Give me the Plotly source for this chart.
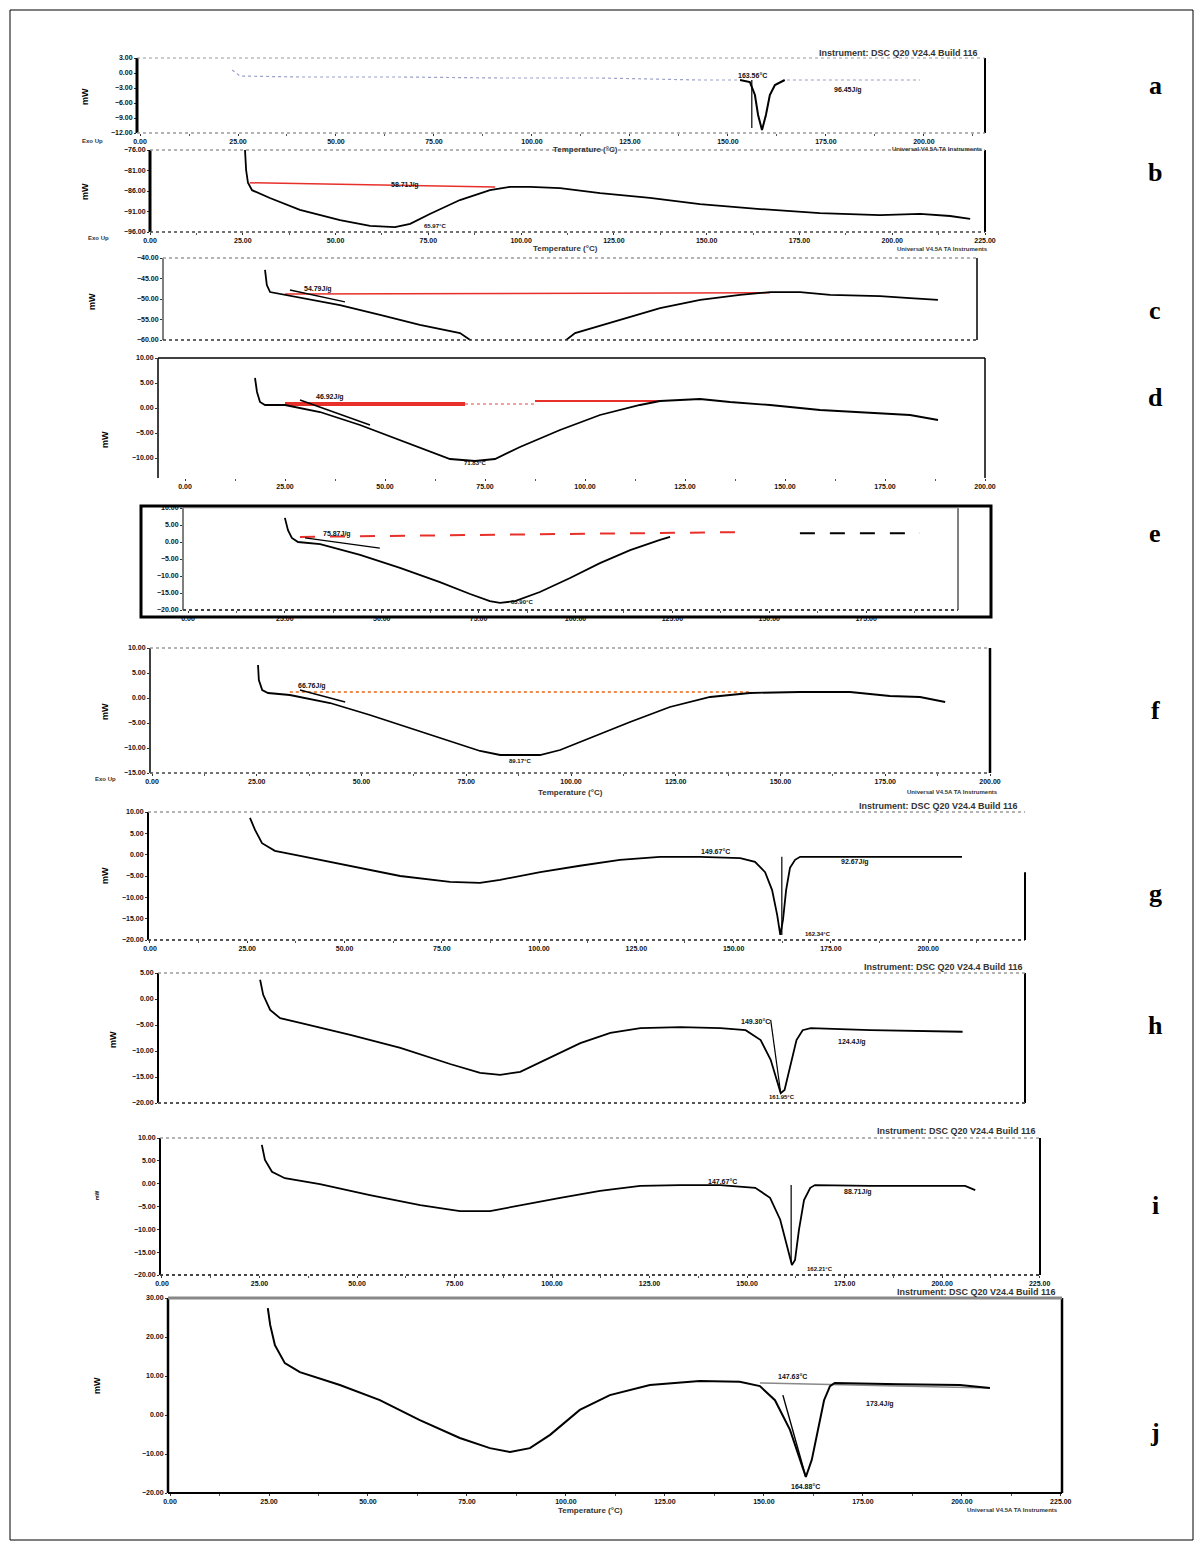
import plotly.graph_objects as go

# ---------------- data (temperature °C, heat flow mW) ----------------
a_T = [23.5, 25.5, 40.8, 66.3, 91.8, 117.3, 130.1, 142.9, 153.1, 155.6, 156.9, 157.7, 158.7, 159.7, 160.7, 162.0, 164.5, 181.1, 199.0]
a_Y = [0.6, -0.6, -0.8, -0.8, -1.0, -1.0, -1.2, -1.4, -1.4, -1.8, -4.4, -8.4, -11.4, -8.4, -4.4, -2.4, -1.4, -1.4, -1.4]
a_tan_T = [156.1, 156.1]
a_tan_Y = [-1.4, -11.0]

b_T = [25.6, 25.9, 26.4, 27.5, 32.3, 40.4, 51.2, 59.3, 66.0, 70.1, 75.4, 83.5, 91.6, 97.0, 102.4, 110.5, 121.3, 134.7, 148.2, 164.4, 180.5, 196.7, 207.5, 215.6, 221.0]
b_Y = [-76.0, -80.9, -84.0, -85.8, -87.7, -90.6, -93.1, -94.5, -94.8, -94.0, -91.6, -88.2, -85.8, -85.0, -85.0, -85.3, -86.5, -87.7, -89.2, -90.4, -91.4, -91.9, -91.6, -92.1, -92.8]
b_base_T = [26.9, 93.0]
b_base_Y = [-84.0, -85.0]

c_T = [28.2, 28.7, 29.6, 33.7, 37.9, 48.9, 60.0, 71.0, 82.1, 93.2, 98.7, 104.2, 113.9, 126.3, 137.4, 148.5, 159.5, 167.8, 176.1, 184.4, 198.2, 206.5, 214.2]
c_Y = [-42.9, -46.6, -48.3, -49.0, -49.8, -51.5, -53.9, -56.3, -58.3, -65.0, -66.0, -65.0, -58.3, -55.1, -52.2, -50.2, -49.0, -48.3, -48.3, -49.0, -49.3, -49.8, -50.2]
c_base_T = [33.7, 167.8]
c_base_Y = [-48.8, -48.5]
c_tan_T = [35.1, 50.3]
c_tan_Y = [-47.8, -50.7]

d_T = [17.5, 18.0, 18.75, 20.0, 25.0, 33.75, 43.75, 53.75, 61.25, 66.25, 72.5, 77.5, 83.75, 93.75, 103.75, 113.75, 118.75, 128.75, 136.25, 146.25, 158.75, 171.25, 181.25, 188.25]
d_Y = [6.0, 3.2, 1.2, 0.6, 0.6, -0.8, -3.4, -6.4, -8.8, -10.2, -10.6, -10.2, -7.8, -4.4, -1.4, 0.6, 1.4, 1.8, 1.2, 0.6, -0.4, -1.0, -1.4, -2.4]
d_base1_T = [25.0, 70.0]
d_base1_Y = [0.8, 0.8]
d_base2_T = [70.0, 87.5]
d_base2_Y = [0.8, 0.8]
d_base3_T = [87.5, 118.75]
d_base3_Y = [1.4, 1.4]
d_tan_T = [28.75, 46.25]
d_tan_Y = [1.6, -3.4]

e_T = [25.0, 25.8, 26.8, 28.4, 34.1, 44.4, 54.7, 65.0, 72.8, 77.9, 80.5, 84.4, 90.8, 98.6, 106.3, 114.1, 121.8, 124.4]
e_Y = [7.1, 3.5, 1.2, 0.0, -0.6, -3.8, -7.6, -11.8, -15.3, -17.4, -17.9, -17.4, -14.7, -10.6, -6.2, -2.4, 0.6, 1.5]
e_base1_T = [28.9, 141.2]
e_base1_Y = [1.5, 2.9]
e_base2_T = [157.9, 188.9]
e_base2_Y = [2.6, 2.6]
e_tan_T = [30.2, 49.5]
e_tan_Y = [1.2, -1.8]

f_T = [25.3, 25.5, 26.3, 27.7, 32.9, 42.5, 52.0, 61.6, 71.1, 78.3, 83.1, 92.6, 97.4, 104.5, 114.1, 123.6, 133.2, 142.7, 154.7, 166.6, 176.1, 183.3, 189.3]
f_Y = [6.6, 3.6, 1.6, 1.0, 0.6, -1.0, -3.4, -6.0, -8.6, -10.6, -11.4, -11.4, -10.4, -8.0, -4.8, -1.8, 0.2, 1.0, 1.2, 1.2, 0.4, 0.2, -0.8]
f_base_T = [32.9, 142.7]
f_base_Y = [1.2, 1.2]
f_tan_T = [35.3, 46.1]
f_tan_Y = [1.6, -0.8]

g_T = [25.7, 27.0, 28.8, 32.1, 38.6, 51.4, 64.3, 77.1, 84.8, 90.0, 100.3, 110.5, 120.8, 131.1, 141.4, 151.7, 155.5, 158.1, 159.9, 161.2, 162.0, 162.7, 163.5, 164.5, 165.8, 167.1, 179.9, 192.8, 208.7]
g_Y = [8.6, 5.8, 2.7, 0.9, -0.3, -2.6, -5.0, -6.4, -6.6, -5.9, -4.1, -2.6, -1.2, -0.5, -0.5, -0.8, -1.7, -4.1, -8.3, -14.1, -18.8, -15.3, -8.3, -3.1, -1.2, -0.5, -0.5, -0.5, -0.5]
g_tan_T = [162.4, 162.4]
g_tan_Y = [-0.5, -18.8]

h_T = [26.5, 27.3, 29.1, 31.7, 36.9, 49.9, 62.9, 75.8, 83.6, 88.8, 94.0, 101.8, 109.6, 117.4, 125.2, 135.6, 146.0, 152.5, 156.4, 159.0, 160.8, 161.6, 162.6, 164.2, 165.7, 167.3, 169.4, 184.9, 200.5, 208.8]
h_Y = [3.7, 0.8, -2.1, -3.7, -4.6, -6.9, -9.4, -12.5, -14.2, -14.6, -14.0, -11.3, -8.5, -6.5, -5.6, -5.4, -5.6, -6.0, -7.9, -11.7, -16.5, -18.1, -17.5, -12.7, -7.9, -6.0, -5.6, -6.0, -6.2, -6.3]
h_tan_T = [159.0, 161.6]
h_tan_Y = [-4.0, -18.1]

i_T = [25.6, 26.4, 28.2, 31.5, 40.5, 53.3, 66.2, 76.4, 84.1, 91.8, 102.1, 112.3, 122.6, 132.8, 143.1, 152.1, 155.9, 158.5, 160.5, 161.5, 162.3, 163.3, 164.6, 166.2, 167.4, 181.5, 196.9, 205.9, 208.5]
i_Y = [8.5, 5.2, 2.6, 1.2, -0.1, -2.5, -4.7, -6.0, -6.0, -4.7, -3.1, -1.6, -0.5, -0.3, -0.3, -0.9, -3.1, -7.9, -14.5, -17.8, -16.7, -10.1, -3.6, -0.9, -0.3, -0.5, -0.5, -0.5, -1.4]
i_tan_T = [161.3, 161.3]
i_tan_Y = [-0.3, -17.2]

j_T = [24.7, 25.3, 26.5, 29.0, 32.8, 42.9, 53.0, 63.1, 73.2, 80.8, 85.9, 90.9, 96.0, 103.5, 111.1, 121.2, 133.8, 143.9, 149.0, 152.8, 156.6, 159.1, 160.6, 162.1, 163.6, 165.2, 166.7, 167.9, 184.3, 199.5, 207.1]
j_Y = [27.4, 23.1, 17.9, 13.3, 11.0, 7.7, 3.8, -1.3, -5.9, -8.5, -9.5, -8.5, -5.1, 1.3, 5.1, 7.7, 8.7, 8.5, 7.4, 3.8, -3.8, -11.5, -15.9, -11.5, -3.8, 3.8, 7.4, 8.2, 7.9, 7.7, 6.9]
j_tan_T = [154.8, 160.6]
j_tan_Y = [5.1, -15.9]
j_base_T = [149.0, 207.1]
j_base_Y = [8.2, 6.9]

letters = ["a", "b", "c", "d", "e", "f", "g", "h", "i", "j"]
instrument_text = "Instrument: DSC Q20 V24.4 Build 116"

# ---------------- layout helpers ----------------
W, H = 1203, 1549


def fx(x):
    return x / W


def fy(y):
    return 1 - y / H


# panel boxes (left, right, top, bottom px), x range, y range/ticks, show x labels
panels = [
    dict(box=(137, 985, 58, 133), xr=[-0.77, 215.6], yr=[-12, 3], yt=[-12, -9, -6, -3, 0, 3], xl=True),
    dict(box=(150, 985, 150, 232), xr=[0, 225], yr=[-96, -76], yt=[-96, -91, -86, -81, -76], xl=True),
    dict(box=(163, 977, 258, 340), xr=[0, 225], yr=[-60, -40], yt=[-60, -55, -50, -45, -40], xl=False),
    dict(box=(158, 985, 358, 478), xr=[-6.75, 200], yr=[-14, 10], yt=[-10, -5, 0, 5, 10], xl=True),
    dict(box=(183, 958, 508, 610), xr=[-1.29, 198.7], yr=[-20, 10], yt=[-20, -15, -10, -5, 0, 5, 10], xl=True),
    dict(box=(150, 990, 648, 773), xr=[-0.48, 200.0], yr=[-15, 10], yt=[-15, -10, -5, 0, 5, 10], xl=True),
    dict(box=(148, 1025, 812, 940), xr=[-0.51, 224.9], yr=[-20, 10], yt=[-20, -15, -10, -5, 0, 5, 10], xl=True),
    dict(box=(158, 1025, 973, 1103), xr=[0, 225], yr=[-20, 5], yt=[-20, -15, -10, -5, 0, 5], xl=False),
    dict(box=(160, 1040, 1138, 1275), xr=[-0.51, 225.1], yr=[-20, 10], yt=[-20, -15, -10, -5, 0, 5, 10], xl=True),
    dict(box=(168, 1062, 1298, 1493), xr=[-0.51, 225.3], yr=[-20, 30], yt=[-20, -10, 0, 10, 20, 30], xl=True),
]
letter_y = [85, 173, 310, 397, 533, 710, 893, 1025, 1205, 1432]
ylabel_pos = [(85, 97, 9), (85, 192, 9), (92, 302, 9), (105, 440, 9), None, (105, 712, 9),
              (105, 876, 9), (113, 1040, 9), (97, 1196, 5), (97, 1386, 9)]

fig = go.Figure()
layout = dict(width=W, height=H, autosize=False,
              margin=dict(l=0, r=0, t=0, b=0, pad=0, autoexpand=False),
              paper_bgcolor="white", plot_bgcolor="white", showlegend=False)
shapes = []
annotations = []


def xn(k):
    return "x" if k == 0 else f"x{k+1}"


def yn(k):
    return "y" if k == 0 else f"y{k+1}"


tickfont = dict(size=7, color="#111", family="Liberation Sans", weight="bold")
for k, p in enumerate(panels):
    l, r, t, b = p["box"]
    xk = "xaxis" if k == 0 else f"xaxis{k+1}"
    yk = "yaxis" if k == 0 else f"yaxis{k+1}"
    layout[xk] = dict(domain=[fx(l), fx(r)], range=p["xr"], anchor=yn(k), showgrid=False, zeroline=False,
                      showline=False, tickmode="array", automargin=False, fixedrange=True,
                      tickvals=[v for v in range(0, 226, 25) if p["xr"][0] - 0.01 <= v <= p["xr"][1] + 0.6],
                      showticklabels=p["xl"], tickfont=tickfont, ticks="outside" if p["xl"] else "",
                      ticklen=2, tickcolor="#333", tickformat=".2f",
                      minor=dict(ticks="outside" if p["xl"] else "", ticklen=2, tickcolor="#555", dtick=12.5))
    layout[yk] = dict(domain=[fy(b), fy(t)], range=p["yr"], anchor=xn(k), showgrid=False, zeroline=False,
                      showline=False, tickmode="array", tickvals=p["yt"], tickfont=tickfont,
                      automargin=False, fixedrange=True,
                      ticks="outside", ticklen=2, tickcolor="#333", tickformat=".2f")
    annotations.append(dict(xref="paper", yref="paper", x=fx(1155), y=fy(letter_y[k]), text=letters[k],
                            xanchor="center", yanchor="middle", showarrow=False,
                            font=dict(family="Liberation Serif", size=26, color="black", weight="bold")))
    if ylabel_pos[k] is not None:
        lx, ly, ls = ylabel_pos[k]
        annotations.append(dict(xref="paper", yref="paper", x=fx(lx), y=fy(ly), text="mW", textangle=-90,
                                xanchor="center", yanchor="middle", showarrow=False,
                                font=dict(family="Liberation Sans", size=ls, color="black", weight="bold")))


def edge(k, side, color="black", width=1, dash="solid"):
    d = dict(type="line", xref=f"{xn(k)} domain", yref=f"{yn(k)} domain",
             line=dict(color=color, width=width, dash=dash), layer="above")
    if side == "left":
        d.update(x0=0, x1=0, y0=0, y1=1)
    elif side == "right":
        d.update(x0=1, x1=1, y0=0, y1=1)
    elif side == "top":
        d.update(x0=0, x1=1, y0=1, y1=1)
    else:
        d.update(x0=0, x1=1, y0=0, y1=0)
    shapes.append(d)


GRAY = "#9a9a9a"
edge(0, "left", width=3); edge(0, "right", width=2); edge(0, "top", GRAY, 1, "dot"); edge(0, "bottom", GRAY, 1.5, "dot")
edge(1, "left", width=3); edge(1, "right", width=2); edge(1, "top", GRAY, 1.5, "dot"); edge(1, "bottom", "#444", 1.5, "dot")
edge(2, "left", width=1); edge(2, "right", width=1.5); edge(2, "top", GRAY, 1.5, "dot"); edge(2, "bottom", "#333", 1.5, "dot")
edge(3, "left", width=1.5); edge(3, "right", width=1.5); edge(3, "top", "black", 1.5)
edge(4, "left", width=1); edge(4, "right", width=1); edge(4, "bottom", "#444", 2, "dot"); edge(4, "top", "#bbb", 1)
shapes.append(dict(type="rect", xref="paper", yref="paper", x0=fx(141), x1=fx(991), y0=fy(617), y1=fy(506),
                   line=dict(color="black", width=3)))
edge(5, "left", width=1.5); edge(5, "right", width=2.5); edge(5, "top", GRAY, 1.5, "dot"); edge(5, "bottom", "#444", 1.5, "dot")
edge(6, "left", width=2); edge(6, "top", GRAY, 1.5, "dot"); edge(6, "bottom", "#555", 2, "dot")
shapes.append(dict(type="line", xref=f"{xn(6)} domain", yref=f"{yn(6)} domain", x0=1, x1=1, y0=0, y1=0.53,
                   line=dict(color="black", width=2)))
edge(7, "left", width=2); edge(7, "right", width=2); edge(7, "top", GRAY, 1.5, "dot"); edge(7, "bottom", "#555", 2, "dot")
edge(8, "left", width=2); edge(8, "right", width=2); edge(8, "top", GRAY, 1.5, "dot"); edge(8, "bottom", "#444", 2, "dot")
edge(9, "left", width=2.5); edge(9, "right", width=2.5); edge(9, "top", "#888", 3); edge(9, "bottom", "black", 2)

# outer frame
shapes.append(dict(type="rect", xref="paper", yref="paper", x0=fx(10), x1=fx(1193), y0=fy(1540), y1=fy(10),
                   line=dict(color="black", width=1)))


def line(k, T, Y, color="black", width=1.6, dash="solid"):
    fig.add_trace(go.Scatter(x=T, y=Y, mode="lines", xaxis=xn(k), yaxis=yn(k), hoverinfo="skip",
                             line=dict(color=color, width=width, dash=dash)))


RED = "#e8302a"
line(0, a_T, a_Y, "#9aa0c8", 1.2, "dot")
line(0, a_T[8:17], a_Y[8:17], "black", 2)
line(0, a_tan_T, a_tan_Y, "black", 1.2)
line(1, b_base_T, b_base_Y, RED, 1.5)
line(1, b_T, b_Y, "black", 1.8)
line(2, c_base_T, c_base_Y, RED, 1.5)
line(2, c_T, c_Y, "black", 1.8)
line(2, c_tan_T, c_tan_Y, "black", 1.4)
line(3, d_base1_T, d_base1_Y, RED, 4)
line(3, d_base2_T, d_base2_Y, "#f3a0a0", 2, "dot")
line(3, d_base3_T, d_base3_Y, RED, 2)
line(3, d_T, d_Y, "black", 1.8)
line(3, d_tan_T, d_tan_Y, "black", 1.4)
line(4, e_base1_T, e_base1_Y, RED, 2, "longdash")
line(4, e_base2_T, e_base2_Y, "black", 2, "longdash")
line(4, e_T, e_Y, "black", 1.8)
line(4, e_tan_T, e_tan_Y, "black", 1.4)
line(5, f_base_T, f_base_Y, "#f08a4b", 1.8, "dot")
line(5, f_T, f_Y, "black", 1.8)
line(5, f_tan_T, f_tan_Y, "black", 1.4)
line(6, g_T, g_Y, "black", 1.8)
line(6, g_tan_T, g_tan_Y, "black", 1.2)
line(7, h_T, h_Y, "black", 1.8)
line(7, h_tan_T, h_tan_Y, "black", 1.2)
line(8, i_T, i_Y, "black", 1.8)
line(8, i_tan_T, i_tan_Y, "black", 1.2)
line(9, j_base_T, j_base_Y, "#888", 1.5)
line(9, j_T, j_Y, "black", 2)
line(9, j_tan_T, j_tan_Y, "black", 1.4)


def txt(x, y, s, size=7, bold=False, anchor="center", color="#111"):
    annotations.append(dict(xref="paper", yref="paper", x=fx(x), y=fy(y), text=s, showarrow=False,
                            xanchor=anchor, yanchor="middle",
                            font=dict(family="Liberation Sans", size=size, color=color,
                                      weight="bold" if bold else "normal")))


txt(980, 53, instrument_text, 9, True, "right", "#333")
txt(752, 75, "163.56°C", 7, True)
txt(848, 90, "96.45J/g", 7, True)
for (ye, yy, xl, xc, xr) in [(141, 149, 92, 585, 985), (238, 249, 98, 565, 990), (779, 792, 105, 570, 1000)]:
    txt(xl, ye, "Exo Up", 6, True, "center", "#333")
    txt(xc, yy, "Temperature (°C)", 8, True, "center", "#333")
    txt(xr, yy, "Universal V4.5A TA Instruments", 6, True, "right", "#333")
txt(405, 185, "58.71J/g", 7, True)
txt(435, 226, "65.97°C", 6, True)
txt(318, 289, "54.79J/g", 7, True)
txt(330, 397, "46.92J/g", 7, True)
txt(475, 463, "71.83°C", 6, True)
txt(337, 534, "75.87J/g", 7, True)
txt(522, 602, "83.90°C", 6, True)
txt(312, 686, "66.76J/g", 7, True)
txt(520, 761, "89.17°C", 6, True)
txt(1020, 806, instrument_text, 9, True, "right", "#333")
txt(715, 852, "149.67°C", 7, True)
txt(855, 862, "92.67J/g", 7, True)
txt(818, 934, "162.34°C", 6, True)
txt(1025, 967, instrument_text, 9, True, "right", "#333")
txt(755, 1021, "149.30°C", 7, True)
txt(852, 1042, "124.4J/g", 7, True)
txt(782, 1097, "161.95°C", 6, True)
txt(1038, 1131, instrument_text, 9, True, "right", "#333")
txt(722, 1181, "147.67°C", 7, True)
txt(858, 1192, "88.71J/g", 7, True)
txt(820, 1269, "162.21°C", 6, True)
txt(1058, 1292, instrument_text, 9, True, "right", "#333")
txt(792, 1376, "147.63°C", 7, True)
txt(880, 1404, "173.4J/g", 7, True)
txt(805, 1486, "164.88°C", 7, True)
txt(590, 1510, "Temperature (°C)", 8, True, "center", "#333")
txt(1060, 1510, "Universal V4.5A TA Instruments", 6, True, "right", "#333")

layout["shapes"] = shapes
layout["annotations"] = annotations
fig.update_layout(**layout)
fig.write_html(
    "out.html",
    config={"displayModeBar": False, "staticPlot": True},
    post_script="document.documentElement.style.margin='0';document.body.style.margin='0';"
                "document.documentElement.style.overflow='hidden';document.body.style.overflow='hidden';",
)
